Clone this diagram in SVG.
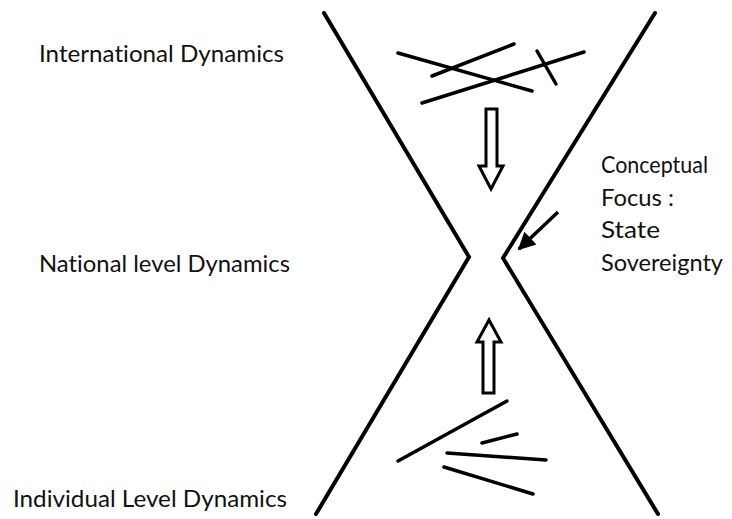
<svg xmlns="http://www.w3.org/2000/svg" width="732" height="519" viewBox="0 0 732 519">
<defs>
<style>
.t{font-family:Lato,"Open Sans","Liberation Sans",sans-serif;font-size:23px;fill:#111;font-variant-ligatures:none}
.s{stroke:#000;stroke-width:4;fill:none;stroke-linecap:round;stroke-linejoin:miter}
.h{stroke:#000;stroke-width:3.5;fill:none;stroke-linecap:round}
.b{stroke:#000;stroke-width:3;fill:#fff;stroke-linejoin:miter}
</style>
<marker id="ah" viewBox="0 0 10 10" refX="9" refY="5" markerWidth="6" markerHeight="5" orient="auto" markerUnits="strokeWidth">
<path d="M0,0 L10,5 L0,10 z" fill="#000"/>
</marker>
</defs>
<rect width="732" height="519" fill="#fff"/>
<g id="hourglass">
<polyline class="s" points="324,13 469,257 316,514"/>
<polyline class="s" points="655,13 503,258 658,514"/>
</g>
<g id="international">
<text class="t" x="39" y="62" textLength="245" lengthAdjust="spacingAndGlyphs">International Dynamics</text>
<line class="h" x1="398" y1="53" x2="532" y2="91"/>
<line class="h" x1="432" y1="76" x2="514" y2="44"/>
<line class="h" x1="422" y1="103" x2="584" y2="52"/>
<line class="h" x1="537" y1="51" x2="556" y2="84"/>
</g>
<g id="national">
<text class="t" x="39" y="272" textLength="251" lengthAdjust="spacingAndGlyphs">National level Dynamics</text>
</g>
<g id="individual">
<text class="t" x="13" y="507" textLength="274" lengthAdjust="spacingAndGlyphs">Individual Level Dynamics</text>
<line class="h" x1="398" y1="461" x2="507" y2="401"/>
<line class="h" x1="482" y1="443" x2="517" y2="434"/>
<line class="h" x1="447" y1="453" x2="546" y2="460"/>
<line class="h" x1="444" y1="467" x2="533" y2="494"/>
</g>
<g id="focus">
<text class="t" x="601" y="173" textLength="107" lengthAdjust="spacingAndGlyphs">Conceptual</text>
<text class="t" x="601" y="206" textLength="73" lengthAdjust="spacingAndGlyphs">Focus :</text>
<text class="t" x="601" y="238" textLength="59" lengthAdjust="spacingAndGlyphs">State</text>
<text class="t" x="601" y="271" textLength="122" lengthAdjust="spacingAndGlyphs">Sovereignty</text>
</g>
<g id="connectors">
<line x1="558" y1="212" x2="519" y2="249" stroke="#000" stroke-width="3.5" marker-end="url(#ah)"/>
<path class="b" d="M486,109 L497,109 L497,166 L503,166 L491,189 L479,166 L486,166 Z"/>
<path class="b" d="M489,320 L501,342 L494,342 L494,393 L483,393 L483,342 L477,342 Z"/>
</g>
</svg>
